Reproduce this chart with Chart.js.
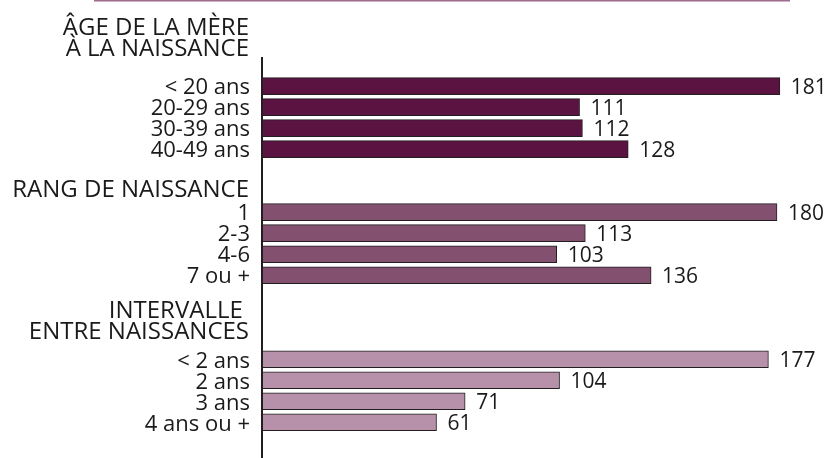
<!DOCTYPE html>
<html lang="fr">
<head>
<meta charset="utf-8">
<script src="https://cdn.jsdelivr.net/npm/chart.js@4.4.1/dist/chart.umd.min.js"></script>
<style>
  html, body { margin: 0; padding: 0; background: #fff; }
  #wrap { width: 826px; height: 458px; position: relative; }
</style>
</head>
<body>
<div id="wrap"><canvas id="chart" width="826" height="458"></canvas></div>
<script>
// Groups of the chart: row labels, values, and section titles
const ageHeader = ['ÂGE DE LA MÈRE', 'À LA NAISSANCE'];
const ageLabels = ['< 20 ans', '20-29 ans', '30-39 ans', '40-49 ans'];
const ageValues = [181, 111, 112, 128];

const rankHeader = ['RANG DE NAISSANCE'];
const rankLabels = ['1', '2-3', '4-6', '7 ou +'];
const rankValues = [180, 113, 103, 136];

const intervalHeader = ['INTERVALLE ', 'ENTRE NAISSANCES'];
const intervalLabels = ['< 2 ans', '2 ans', '3 ans', '4 ans ou +'];
const intervalValues = [177, 104, 71, 61];

const FONT = '"Open Sans", "Noto Sans", sans-serif';
const TEXT = '#1a1a1a';

// Row layout: spacer rows leave room for the section titles
const rows = [];
const groups = [
  { header: ageHeader, labels: ageLabels, values: ageValues, gap: 1, color: '#5b1342', headerAt: -2.89 },
  { header: rankHeader, labels: rankLabels, values: rankValues, gap: 2, color: '#835070', headerAt: -1.19 },
  { header: intervalHeader, labels: intervalLabels, values: intervalValues, gap: 3, color: '#b691a9', headerAt: -2.43 }
];
groups.forEach(g => {
  for (let i = 0; i < g.gap; i++) rows.push('');
  g.start = rows.length;
  g.labels.forEach(l => rows.push(l));
});

const datasets = groups.map(g => {
  const data = rows.map(() => null);
  g.values.forEach((v, i) => { data[g.start + i] = v; });
  return {
    data,
    backgroundColor: g.color,
    borderColor: '#231f20',
    borderWidth: 1,
    borderSkipped: false,
    barThickness: 17
  };
});

// Value written just past the end of each bar
const valueLabels = {
  id: 'valueLabels',
  afterDatasetsDraw(chart) {
    const ctx = chart.ctx;
    ctx.save();
    ctx.font = '21px ' + FONT;
    ctx.fillStyle = TEXT;
    ctx.textAlign = 'left';
    ctx.textBaseline = 'middle';
    chart.data.datasets.forEach((ds, di) => {
      chart.getDatasetMeta(di).data.forEach((bar, i) => {
        const v = ds.data[i];
        if (v === null) return;
        ctx.fillText(String(v), bar.x + 11, bar.y + 2);
      });
    });
    ctx.restore();
  }
};

// Section titles, the vertical axis rule and the top rule
const decorations = {
  id: 'decorations',
  afterDraw(chart) {
    const ctx = chart.ctx;
    const y = chart.scales.y;
    const x0 = chart.scales.x.getPixelForValue(0);
    ctx.save();
    ctx.font = '24px ' + FONT;
    ctx.fillStyle = TEXT;
    ctx.textAlign = 'right';
    ctx.textBaseline = 'middle';
    groups.forEach(g => {
      g.header.forEach((line, k) => {
        ctx.fillText(line, 249, y.getPixelForValue(g.start + g.headerAt + k) + 3);
      });
    });
    ctx.strokeStyle = '#231f20';
    ctx.lineWidth = 2;
    ctx.beginPath();
    ctx.moveTo(x0, 57);
    ctx.lineTo(x0, chart.height);
    ctx.stroke();
    ctx.strokeStyle = '#9e6b8f';
    ctx.lineWidth = 1.5;
    ctx.beginPath();
    ctx.moveTo(94, 0.75);
    ctx.lineTo(790, 0.75);
    ctx.stroke();
    ctx.restore();
  }
};

new Chart(document.getElementById('chart'), {
  type: 'bar',
  data: { labels: rows, datasets },
  options: {
    indexAxis: 'y',
    responsive: false,
    animation: false,
    layout: { padding: { top: 54.6, bottom: 14.2, left: 0, right: 20.4 } },
    datasets: { bar: { grouped: false } },
    plugins: { legend: { display: false }, tooltip: { enabled: false } },
    scales: {
      x: { display: false, min: 0, max: 190 },
      y: {
        afterFit(scale) { scale.width = 262; },
        grid: { display: false, drawTicks: false },
        border: { display: false },
        ticks: {
          autoSkip: false,
          padding: 12,
          labelOffset: 2,
          color: TEXT,
          font: { family: FONT, size: 22 }
        }
      }
    }
  },
  plugins: [valueLabels, decorations]
});
</script>
</body>
</html>
